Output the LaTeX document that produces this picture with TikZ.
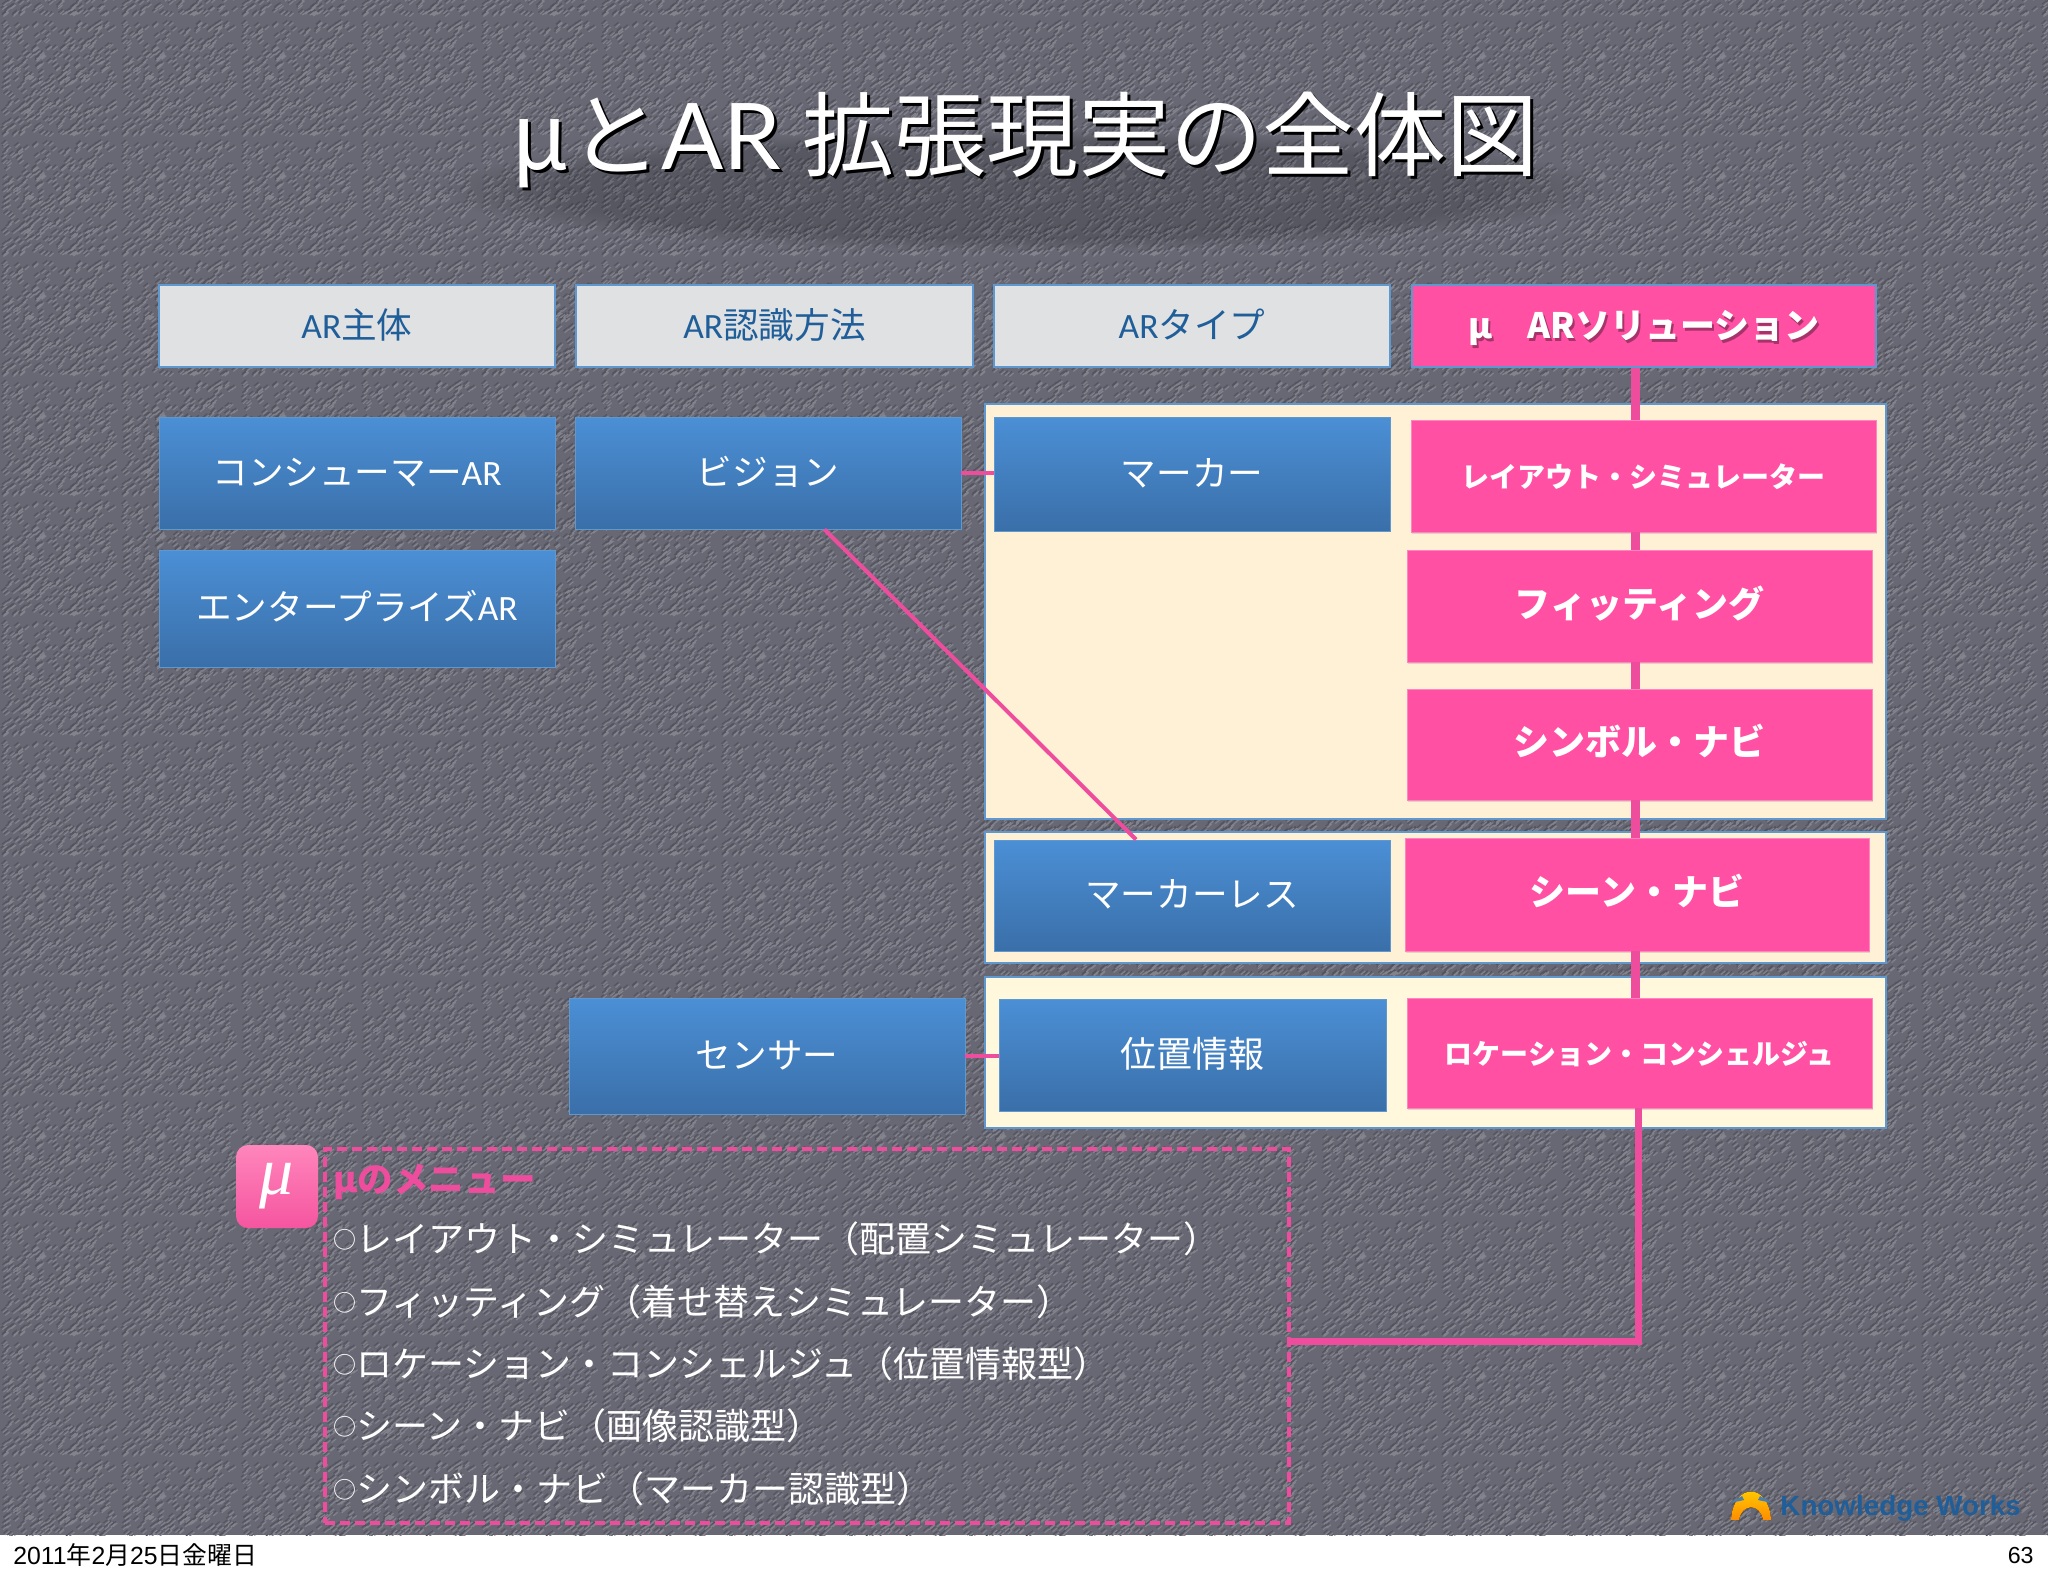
\documentclass[tikz,border=0pt]{standalone}
\usepackage{fontspec}
\usepackage{xcolor}
\usetikzlibrary{patterns,shadows,fadings}
\setmainfont{Noto Sans CJK JP}
\newfontfamily\latfont{Lato}
\newfontfamily\carfont{Carlito}
\newfontfamily\footfont{Liberation Sans}
\newfontfamily\serifmu{Liberation Serif}
\newcommand{\arword}{{\carfont AR}}
\newcommand{\ringmark}{\raisebox{1.6pt}{\fontsize{11.5}{12}\selectfont ○}}
\definecolor{slidegray}{HTML}{686874}
\definecolor{grainlo}{HTML}{54545F}
\definecolor{grainhi}{HTML}{83838E}
\definecolor{hdrgray}{HTML}{E0E1E2}
\definecolor{hdrblue}{HTML}{1F5E99}
\definecolor{edgeblue}{HTML}{5F97CF}
\definecolor{bluetop}{HTML}{4B8FD5}
\definecolor{bluebot}{HTML}{3A6FA9}
\definecolor{hotpink}{HTML}{FF50A4}
\definecolor{linepink}{HTML}{EE4C9C}
\definecolor{creamA}{HTML}{FFF1D6}
\definecolor{creamB}{HTML}{FFF8DC}
\definecolor{icontop}{HTML}{FF86BC}
\definecolor{iconmid}{HTML}{FF1F8E}
\definecolor{iconbot}{HTML}{F5559F}

\newcommand{\graintile}[2]{
  \pgfmathsetseed{11}
  \pgfsetlinewidth{0.55pt}
  \foreach \k in {1,...,420}{
    \pgfmathsetmacro{\gx}{0.9+rnd*56.5+#1}
    \pgfmathsetmacro{\gy}{0.9+rnd*56.5+#2}
    \pgfpathmoveto{\pgfqpoint{\gx pt}{\gy pt}}
    \pgfpathlineto{\pgfpoint{\gx pt+2.2pt}{\gy pt+1.8pt}}
  }
  \pgfusepath{stroke}
}
\pgfdeclarepatternformonly{grainA}{\pgfqpoint{0pt}{0pt}}{\pgfqpoint{60pt}{60pt}}{\pgfqpoint{60pt}{60pt}}{\graintile{0}{0}}
\pgfdeclarepatternformonly{grainB}{\pgfqpoint{0pt}{0pt}}{\pgfqpoint{60pt}{60pt}}{\pgfqpoint{60pt}{60pt}}{\graintile{0.8}{-0.8}}

\tikzset{
  boxtext/.style={inner sep=0pt,text height=15pt,text depth=3pt,align=center,font=\fontsize{17.8}{20}\selectfont},
  hdrbox/.style={boxtext,draw=edgeblue,line width=0.6pt,fill=hdrgray,text=hdrblue,minimum height=41pt},
  bluebox/.style={boxtext,draw=edgeblue,line width=0.4pt,top color=bluetop,bottom color=bluebot,text=white},
  pinkbox/.style={boxtext,text height=14pt,fill=hotpink,draw=hotpink!70!white,line width=0.4pt,text=white,minimum width=232.5pt,
    drop shadow={opacity=0.25,shadow xshift=0.6pt,shadow yshift=-0.8pt},font=\fontsize{18}{20}\selectfont\bfseries},
  menuline/.style={anchor=west,inner sep=0pt,text height=14pt,text depth=3pt,text=white,font=\fontsize{18}{20}\selectfont},
  titletext/.style={inner sep=0pt,font=\fontsize{46}{50}\selectfont},
  spineline/.style={draw=linepink,line width=4.5pt},
  thinlink/.style={draw=linepink,line width=2pt},
}

\begin{document}
\begin{tikzpicture}[x=0.5pt,y=-0.5pt]
  \useasboundingbox (0,0) rectangle (2048,1576);
  \fill[white] (0,0) rectangle (2048,1576);
  \fill[slidegray] (0,0) rectangle (2048,1535);
  \fill[pattern=grainA,pattern color=grainlo] (0,0) rectangle (2048,1535);
  \fill[pattern=grainB,pattern color=grainhi] (0,0) rectangle (2048,1535);

  % title
  \fill[black,opacity=0.16,path fading=circle with fuzzy edge 20 percent] (440,130) rectangle (1610,250);
  \node[titletext,text=black] (titleshadow) at (1028,143) {μと{\latfont AR} 拡張現実の全体図};
  \node[titletext,text=white] (title) at (1025,140) {μと{\latfont AR} 拡張現実の全体図};

  % cream panels
  \draw[edgeblue,line width=0.6pt,fill=creamA] (985,404) rectangle (1886,819);
  \draw[edgeblue,line width=0.6pt,fill=creamA] (985,832) rectangle (1886,963);
  \draw[edgeblue,line width=0.6pt,fill=creamB] (985,977) rectangle (1886,1128);

  % headers
  \node[hdrbox,minimum width=198pt] (hsubject) at (357,326) {\arword 主体};
  \node[hdrbox,minimum width=198.5pt] (hmethod) at (774.5,326) {\arword 認識方法};
  \node[hdrbox,minimum width=198pt] (htype) at (1192,326) {\arword タイプ};
  \node[hdrbox,fill=hotpink,minimum width=232pt] (hsolution) at (1644,326) {};
  \node[inner sep=0pt,text=black!35!hotpink,font=\fontsize{17.5}{20}\selectfont\bfseries] (hsolshadow) at (1646,331) {μ　ARソリューション};
  \node[inner sep=0pt,text=white,font=\fontsize{17.5}{20}\selectfont\bfseries] (hsoltext) at (1644,328) {μ　ARソリューション};

  % blue boxes
  \node[bluebox,minimum width=198pt,minimum height=56pt] (consumer) at (357,473) {コンシューマー\arword};
  \node[bluebox,minimum width=198pt,minimum height=58.5pt] (enterprise) at (357,608.5) {エンタープライズ\arword};
  \node[bluebox,minimum width=193pt,minimum height=56pt] (vision) at (768,473) {ビジョン};
  \node[bluebox,minimum width=198pt,minimum height=58pt] (sensor) at (767,1056) {センサー};
  \node[bluebox,minimum width=198pt,minimum height=57pt] (marker) at (1192,474) {マーカー};
  \node[bluebox,minimum width=198pt,minimum height=55.5pt] (markerless) at (1192,895.5) {マーカーレス};
  \node[bluebox,minimum width=193.5pt,minimum height=56pt,font=\fontsize{18}{20}\selectfont] (position) at (1192.5,1055) {位置情報};

  % pink boxes
  \node[pinkbox,minimum height=56pt,font=\fontsize{14}{16}\selectfont\bfseries] (playout) at (1643.5,476) {レイアウト・シミュレーター};
  \node[pinkbox,minimum height=56pt] (pfitting) at (1639.5,606) {フィッティング};
  \node[pinkbox,minimum height=55.5pt] (psymbol) at (1639.5,744.5) {シンボル・ナビ};
  \node[pinkbox,minimum height=56.5pt,minimum width=232pt] (pscene) at (1637,894.5) {シーン・ナビ};
  \node[pinkbox,minimum height=55pt,font=\fontsize{14}{16}\selectfont\bfseries] (plocation) at (1639.5,1053) {ロケーション・コンシェルジュ};

  % menu
  \node[draw=linepink,line width=2pt,dash pattern=on 5pt off 2.5pt,inner sep=0pt,minimum width=482pt,minimum height=187pt] (menu) at (806.5,1335.5) {};
  \node[rounded corners=6pt,inner sep=0pt,minimum width=41pt,minimum height=41.5pt,top color=icontop,middle color=iconmid,bottom color=iconbot,text=white,font=\fontsize{34}{34}\selectfont\serifmu\itshape] (muicon) at (277,1186.5) {μ};
  \node[menuline,text=linepink,font=\fontsize{17.8}{20}\selectfont\bfseries] (menuhead) at (333,1181) {μのメニュー};
  \node[menuline] (menuA) at (333,1241) {\ringmark レイアウト・シミュレーター（配置シミュレーター）};
  \node[menuline] (menuB) at (333,1304) {\ringmark フィッティング（着せ替えシミュレーター）};
  \node[menuline] (menuC) at (333,1366) {\ringmark ロケーション・コンシェルジュ（位置情報型）};
  \node[menuline] (menuD) at (333,1428) {\ringmark シーン・ナビ（画像認識型）};
  \node[menuline] (menuE) at (333,1491) {\ringmark シンボル・ナビ（マーカー認識型）};

  % connectors
  \coordinate (spine) at (1635,0);
  \coordinate (elbow) at (1638,1341);
  \draw[spineline] (hsolution.south -| spine) -- (playout.north -| spine);
  \draw[spineline] (playout.south -| spine) -- (pfitting.north -| spine);
  \draw[spineline] (pfitting.south -| spine) -- (psymbol.north -| spine);
  \draw[spineline] (psymbol.south -| spine) -- (pscene.north -| spine);
  \draw[spineline] (pscene.south -| spine) -- (plocation.north -| spine);
  \draw[linepink,line width=3.5pt] (plocation.south -| elbow) -- (elbow) -- (menu.east |- elbow);
  \draw[thinlink] (vision.east) -- (marker.west |- vision.east);
  \draw[thinlink] (sensor.east) -- (position.west |- sensor.east);
  \draw[thinlink] (vision.-45) -- (markerless.135);

  % logo
  \fill[top color=yellow!70!orange,bottom color=orange!90!yellow] (1731,1520) .. controls (1733,1482) and (1769,1482) .. (1771,1520) -- (1763,1520) .. controls (1760,1503) and (1742,1503) .. (1739,1520) -- cycle;
  \fill[hdrblue!80!white] (1730,1503) -- (1742,1496) -- (1744,1500) -- cycle;
  \fill[hdrblue!80!white] (1772,1503) -- (1760,1496) -- (1758,1500) -- cycle;
  \node[inner sep=0pt,anchor=west,text=hdrblue,font=\footfont\bfseries\fontsize{13.9}{16}\selectfont] (kworks) at (1780,1508) {Knowledge Works};

  % footer
  \node[inner sep=0pt,anchor=west,font=\fontsize{12.4}{14}\selectfont] (datefoot) at (13,1555) {{\footfont 2011}年{\footfont 2}月{\footfont 25}日金曜日};
  \node[inner sep=0pt,anchor=east,font=\footfont\fontsize{11.6}{14}\selectfont] (pagefoot) at (2034,1555) {63};
\end{tikzpicture}
\end{document}
